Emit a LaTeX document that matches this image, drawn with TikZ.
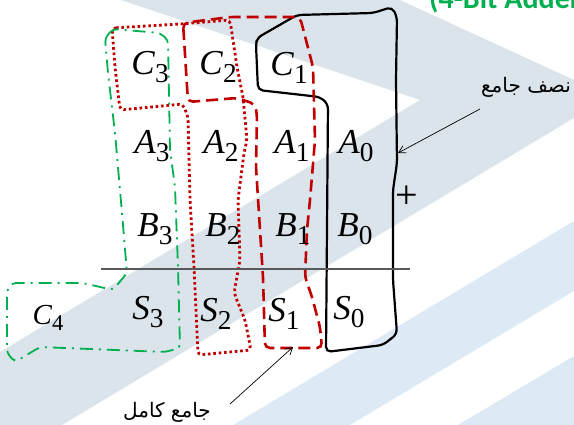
\documentclass[tikz,border=0pt]{standalone}
\usepackage{fontspec}
\setmainfont{Liberation Serif}
\newfontfamily\arabicfont[Script=Arabic]{DejaVu Sans}
\newfontfamily\titlefont{Carlito}
\TeXXeTstate=1
\usetikzlibrary{arrows.meta}
\definecolor{stripegrey}{RGB}{219,228,235}
\definecolor{stripeblue}{RGB}{221,234,245}
\definecolor{addred}{RGB}{192,0,0}
\definecolor{addgreen}{RGB}{0,176,80}
\newcommand{\bitvar}[2]{\textit{#1}\raisebox{-0.22em}{\scalebox{0.78}{#2}}}

\begin{document}
\begin{tikzpicture}[x=1pt,y=-1pt,
    bit/.style={inner sep=0pt,font=\fontsize{35}{35}\selectfont},
    halfbox/.style={draw=black,line width=2.2pt,rounded corners=5pt},
    fullbox/.style={draw=addred,line width=2.6pt,dash pattern=on 12pt off 6pt,rounded corners=5pt},
    dotbox/.style={draw=addred,line width=2.8pt,dash pattern=on 2.6pt off 2.8pt,rounded corners=4pt},
    carrybox/.style={draw=addgreen,line width=1.8pt,dash pattern=on 13pt off 6pt on 2pt off 6pt,rounded corners=4pt},
    pointer/.style={-{Straight Barb[length=7pt,width=8pt]},line width=0.7pt},
    arlabel/.style={font=\fontsize{20}{20}\arabicfont}]
    \clip (0,0) rectangle (574,425);
    \useasboundingbox (0,0) rectangle (574,425);
    \fill[stripegrey] (121,0)--(400,0)--(574,80)--(574,118)--(62,425)--(0,425)--(0,352)--(420,100)--cycle;
    \fill[stripeblue] (233,425)--(574,221)--(574,291)--(350,425)--cycle;
    \fill[stripeblue] (458,425)--(574,356)--(574,425)--cycle;
    \node[anchor=base west,inner sep=0pt,text=addgreen,font=\fontsize{30}{30}\titlefont\bfseries] (title) at (429,9) {(4-Bit Adder)};
    \draw[halfbox] (392,7)--(373,13)--(297,15)--(257,38)--(256,45)--(258,90)--(320,97)--(328,104)--(326,352)--(383,345)--(397,334)--(393,280)--(393,190)--(397,163)--(396,80)--(397,17)--cycle;
    \draw[fullbox] (183,23)--(186,70)--(188,102)--(237,98)--(255,104)--(257,115)--(256,167)--(260,230)--(263,277)--(265,348)--(322,348)--(320,327)--(312,297)--(305,277)--(307,230)--(310,200)--(315,140)--(313,67)--(300,17)--(230,17)--cycle;
    \draw[dotbox] (112,28)--(180,24)--(230,20)--(237,67)--(243,97)--(247,140)--(244,153)--(238,200)--(240,260)--(234,293)--(245,320)--(251,350)--(198,355)--(194,267)--(190,200)--(188,117)--(183,104)--(120,110)--(115,67)--cycle;
    \draw[carrybox] (105,38)--(113,29)--(160,33)--(168,40)--(170,150)--(175,187)--(178,267)--(180,348)--(165,352)--(40,347)--(15,362)--(7,353)--(7,290)--(12,283)--(83,283)--(113,290)--(127,273)--(122,213)--(115,133)--(108,73)--cycle;
    \draw[line width=1.1pt,black!65] (101,269)--(410,269);
    \node[bit] (c3) at (150,67) {\bitvar{C}{3}};
    \node[bit] (c2) at (218,67) {\bitvar{C}{2}};
    \node[bit] (c1) at (289,68) {\bitvar{C}{1}};
    \node[bit] (a3) at (152,146) {\bitvar{A}{3}};
    \node[bit] (a2) at (221,146) {\bitvar{A}{2}};
    \node[bit] (a1) at (292,146) {\bitvar{A}{1}};
    \node[bit] (a0) at (356,146) {\bitvar{A}{0}};
    \node[bit] (b3) at (155,229) {\bitvar{B}{3}};
    \node[bit] (b2) at (223,229) {\bitvar{B}{2}};
    \node[bit] (b1) at (293,229) {\bitvar{B}{1}};
    \node[bit] (b0) at (355,229) {\bitvar{B}{0}};
    \node[bit] (s3) at (148,312) {\bitvar{S}{3}};
    \node[bit] (s2) at (216,314) {\bitvar{S}{2}};
    \node[bit] (s1) at (284,314) {\bitvar{S}{1}};
    \node[bit] (s0) at (349,312) {\bitvar{S}{0}};
    \node[bit,font=\fontsize{29}{29}\selectfont] (c4) at (48,318) {\bitvar{C}{4}};
    \node[bit,font=\fontsize{40}{40}\selectfont] (plus) at (407,197) {+};
    \node[arlabel] (ha) at (526,87) {\beginR نصف جامع\endR};
    \node[arlabel] (fa) at (167,412) {\beginR جامع كامل\endR};
    \coordinate (hafrom) at (480,109);
    \coordinate (hato) at (398,153);
    \coordinate (fafrom) at (230,404);
    \coordinate (fato) at (293,347);
    \draw[pointer] (hafrom)--(hato);
    \draw[pointer] (fafrom)--(fato);
\end{tikzpicture}
\end{document}
